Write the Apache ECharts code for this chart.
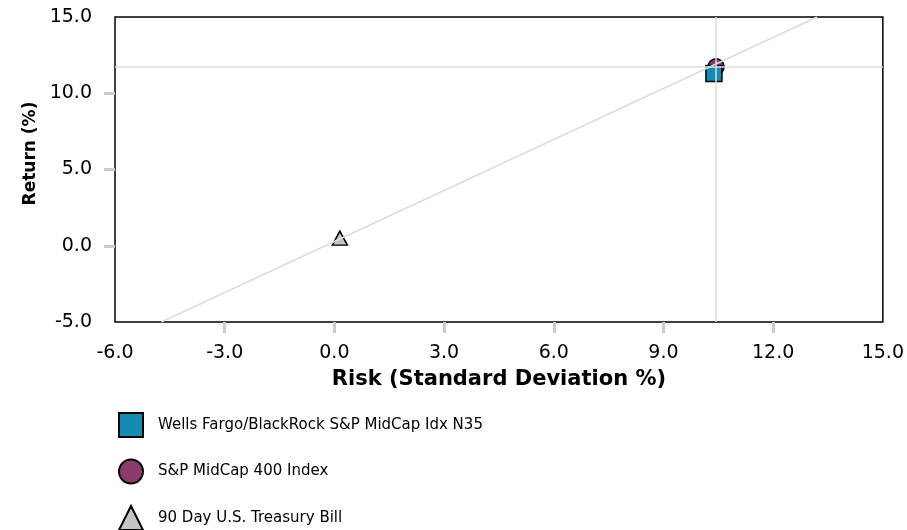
<!DOCTYPE html>
<html>
<head>
<meta charset="utf-8">
<script src="https://cdn.jsdelivr.net/npm/echarts@6/dist/echarts.min.js"></script>
<style>html,body{margin:0;padding:0;background:#fff;}#c{width:907px;height:530px;}</style>
</head>
<body>
<div id="c"></div>
<script>
var seriesNames = ['Wells Fargo/BlackRock S&P MidCap Idx N35', 'S&P MidCap 400 Index', '90 Day U.S. Treasury Bill'];
var fundPoint = [[10.38, 11.30]];
var indexPoint = [[10.44, 11.74]];
var tbillPoint = [[0.15, 0.50]];
var marketLine = [[-4.73, -5.0], [13.2, 15.0]];
var xTicks = [-3, 0, 3, 6, 9, 12];
var yTicks = [0, 5, 10];
var xLabels = [-6, -3, 0, 3, 6, 9, 12, 15];
var yLabels = [-5, 0, 5, 10, 15];

var FONT = '"DejaVu Sans", Verdana, sans-serif';
var legendTops = [412, 458.5, 505];
var legends = seriesNames.map(function (n, i) {
  return {
    orient: 'vertical', left: 118, top: legendTops[i], padding: 0, itemWidth: 24, itemHeight: 24,
    data: [n],
    textStyle: { fontFamily: FONT, fontSize: 15, color: '#000', padding: [0, 0, 0, 10] }
  };
});
var chart = echarts.init(document.getElementById('c'));
chart.setOption({
  animation: false,
  grid: { left: 115, right: 23, top: 17, bottom: 208, show: true, borderColor: '#000', borderWidth: 1.5, backgroundColor: 'transparent' },
  xAxis: {
    type: 'value', min: -6, max: 15, interval: 3,
    name: 'Risk (Standard Deviation %)', nameLocation: 'middle', nameGap: 47,
    nameTextStyle: { fontFamily: FONT, fontWeight: 'bold', fontSize: 21, color: '#000' },
    axisLine: { show: false, onZero: false },
    axisTick: { show: true, customValues: xTicks, length: 11, lineStyle: { color: '#c8ccd0', width: 3 } },
    axisLabel: { customValues: xLabels, formatter: function (v) { return v.toFixed(1); }, fontFamily: FONT, fontSize: 19, color: '#000', margin: 22, showMinLabel: true, showMaxLabel: true },
    splitLine: { show: false }
  },
  yAxis: {
    type: 'value', min: -5, max: 15, interval: 5,
    name: 'Return (%)', nameLocation: 'middle', nameGap: 64,
    nameTextStyle: { fontFamily: FONT, fontWeight: 'bold', fontSize: 17, color: '#000', padding: [0, 0, 0, 32] },
    axisLine: { show: false, onZero: false },
    axisTick: { show: true, customValues: yTicks, length: 11, lineStyle: { color: '#c8ccd0', width: 3 } },
    axisLabel: { customValues: yLabels, formatter: function (v) { return v.toFixed(1); }, fontFamily: FONT, fontSize: 19, color: '#000', margin: 23 },
    splitLine: { show: false }
  },
  legend: legends,
  series: [
    {
      type: 'line', data: marketLine, symbol: 'none', z: 5, silent: true,
      lineStyle: { color: '#dcdcdc', width: 1.5 }
    },
    {
      name: seriesNames[1], type: 'scatter', data: indexPoint, symbol: 'circle', symbolSize: 16, z: 3,
      itemStyle: { color: '#8b3a6e', borderColor: '#000', borderWidth: 1.5, opacity: 1 },
      markLine: {
        silent: true, symbol: 'none', z: 6, label: { show: false },
        lineStyle: { color: '#dcdcdc', width: 1.5, type: 'solid' },
        data: [{ xAxis: indexPoint[0][0] }, { yAxis: indexPoint[0][1] }]
      }
    },
    {
      name: seriesNames[0], type: 'scatter', data: fundPoint, symbol: 'rect', symbolSize: 16, z: 4,
      itemStyle: { color: '#168bb0', borderColor: '#000', borderWidth: 1.5, opacity: 1 }
    },
    {
      name: seriesNames[2], type: 'scatter', data: tbillPoint, symbol: 'triangle', symbolSize: [15, 14], z: 3,
      itemStyle: { color: '#c4c4c4', borderColor: '#000', borderWidth: 1.5, opacity: 1 }
    }
  ]
});
</script>
</body>
</html>
